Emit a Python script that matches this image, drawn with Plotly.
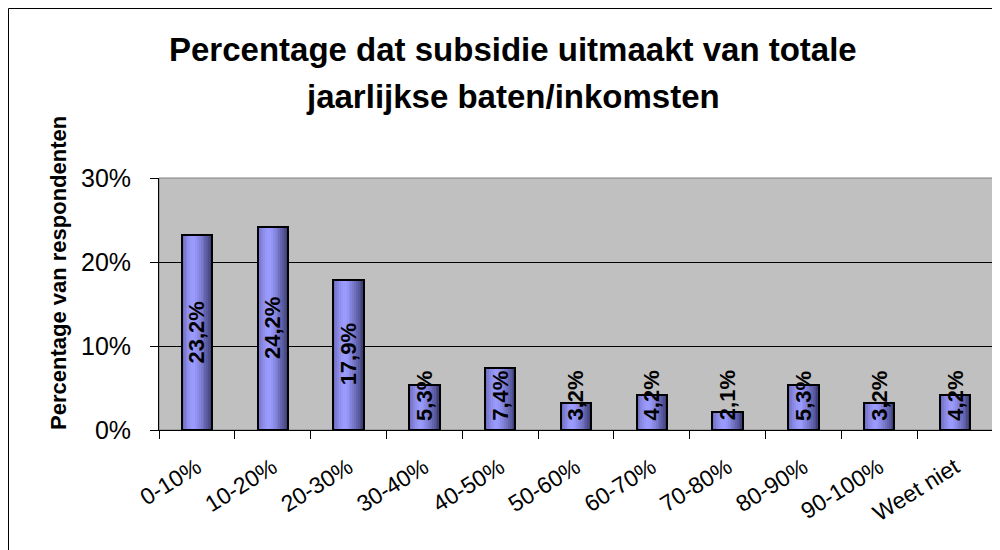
import plotly.graph_objects as go

categories = ["0-10%", "10-20%", "20-30%", "30-40%", "40-50%", "50-60%",
              "60-70%", "70-80%", "80-90%", "90-100%", "Weet niet"]
values = [23.2, 24.2, 17.9, 5.3, 7.4, 3.2, 4.2, 2.1, 5.3, 3.2, 4.2]
title_lines = ["Percentage dat subsidie uitmaakt van totale",
               "jaarlijkse baten/inkomsten"]
y_title = "Percentage van respondenten"
y_ticks = [0, 10, 20, 30]

FONT = "Liberation Sans, Arial, sans-serif"
BAR_W = 0.4
LABEL_MIN_CENTER = 4.1  # label centre never lower than this (data units)
# invisible spacer that widens the gap between y tick labels and tick marks
TICK_PAD = "<span style='color:rgba(0,0,0,0)'>_</span>"

# page offset of the figure (body margin) and geometry in window pixels
OFF = 8
W, H = 1000, 550
plot_left, plot_right, plot_top, plot_bottom = 159, 993, 178, 430
L = plot_left - OFF
T = plot_top - OFF
R = W - (plot_right - OFF)
B = H - (plot_bottom - OFF)
pw, ph = W - L - R, H - T - B


def px_to_paper_x(px):
    return (px - OFF - L) / pw


def px_to_paper_y(py):
    return (H - B - (py - OFF)) / ph


# gradient profile across the bar
left_c = (104, 104, 184)
peak_c = (156, 156, 255)
right_c = (58, 58, 112)
peak_pos = 0.38


def lerp(a, b, t):
    return tuple(int(round(a[i] + (b[i] - a[i]) * t)) for i in range(3))


def grad(t):
    if t < peak_pos:
        s = t / peak_pos
        s = 1 - (1 - s) ** 1.6
        c = lerp(left_c, peak_c, s)
    else:
        s = (t - peak_pos) / (1 - peak_pos)
        s = s ** 1.3
        c = lerp(peak_c, right_c, s)
    return "rgb(%d,%d,%d)" % c


fig = go.Figure()
N = 16
step = BAR_W / N
for i in range(N):
    start = -BAR_W / 2 + i * step
    width = min(step * 1.6, BAR_W / 2 - start)
    fig.add_trace(go.Bar(
        x=categories, y=values, offset=start, width=width,
        marker=dict(color=grad((i + 0.5) / N), line=dict(width=0)),
        hoverinfo="skip", showlegend=False))

# outline
fig.add_trace(go.Bar(
    x=categories, y=values, offset=-BAR_W / 2, width=BAR_W,
    marker=dict(color="rgba(0,0,0,0)", line=dict(color="black", width=2)),
    showlegend=False))

annotations = []
for c, v in zip(categories, values):
    annotations.append(dict(
        x=c, y=max(v / 2, LABEL_MIN_CENTER), xref="x", yref="y",
        text=("%.1f%%" % v).replace(".", ","), textangle=-90,
        showarrow=False, xanchor="center", yanchor="middle",
        font=dict(family=FONT, size=22, color="black", weight="bold")))

title_y = [49, 96]
for line, py in zip(title_lines, title_y):
    annotations.append(dict(
        x=px_to_paper_x(513), y=px_to_paper_y(py), xref="paper", yref="paper",
        text="<b>%s</b>" % line, showarrow=False,
        xanchor="center", yanchor="middle",
        font=dict(family=FONT, size=33, color="black")))

annotations.append(dict(
    x=px_to_paper_x(58), y=px_to_paper_y(273), xref="paper", yref="paper",
    text="<b>%s</b>" % y_title, textangle=-90, showarrow=False,
    xanchor="center", yanchor="middle",
    font=dict(family=FONT, size=22, color="black")))

shapes = [
    dict(type="rect", xref="paper", yref="paper", x0=0, x1=1, y0=0, y1=1,
         line=dict(color="#808080", width=1), layer="below"),
    dict(type="rect", xref="paper", yref="paper",
         x0=px_to_paper_x(OFF + 0.5), x1=px_to_paper_x(OFF + W - 0.5),
         y0=px_to_paper_y(OFF + H - 0.5), y1=px_to_paper_y(OFF + 0.5),
         line=dict(color="black", width=1)),
]

fig.update_layout(
    width=W, height=H,
    margin=dict(l=L, r=R, t=T, b=B, pad=0),
    paper_bgcolor="white", plot_bgcolor="#C0C0C0",
    barmode="overlay", bargap=0,
    annotations=annotations, shapes=shapes,
    font=dict(family=FONT, color="black"),
)
fig.update_xaxes(
    type="category", showline=True, linecolor="black", linewidth=1,
    ticks="outside", ticklen=8, tickcolor="black", tickson="boundaries",
    tickangle=-32, tickfont=dict(family=FONT, size=23, color="black"),
    ticklabelstandoff=14, showgrid=False, range=[-0.5, len(categories) - 0.5])
fig.update_yaxes(
    range=[0, 30], tickvals=y_ticks,
    ticktext=["%d%%%s" % (t, TICK_PAD) for t in y_ticks],
    showline=True, linecolor="black", linewidth=1,
    ticks="outside", ticklen=8, tickcolor="black",
    tickfont=dict(family=FONT, size=25, color="black"),
    showgrid=True, gridcolor="black", gridwidth=1, zeroline=False)

fig.write_html("out.html")
